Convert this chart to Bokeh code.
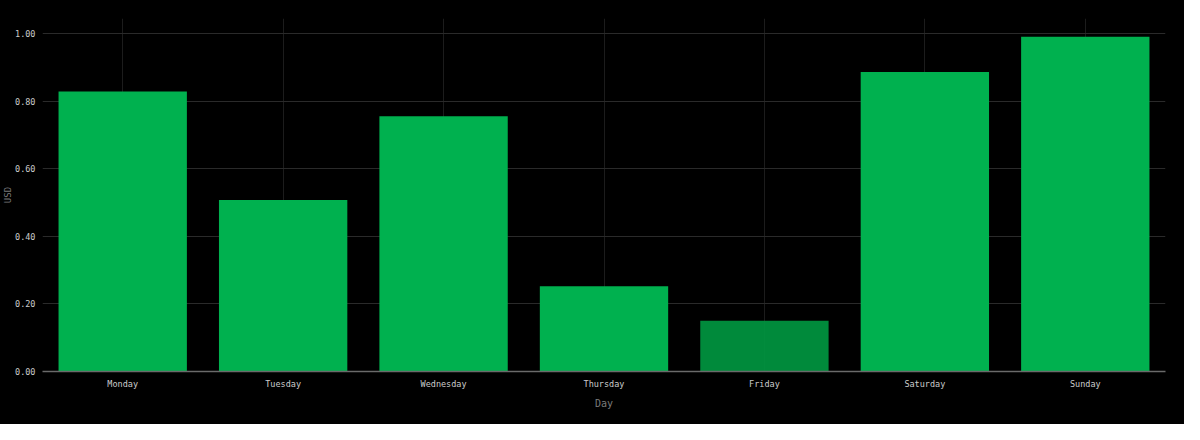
from bokeh.plotting import figure
from bokeh.models import ColumnDataSource, FixedTicker, NumeralTickFormatter, Range1d, Title
from bokeh.embed import file_html
from bokeh.resources import INLINE

days = ["Monday", "Tuesday", "Wednesday", "Thursday", "Friday", "Saturday", "Sunday"]
usd = [0.828, 0.507, 0.755, 0.252, 0.150, 0.886, 0.990]
bar_colors = ["#00b14f", "#00b14f", "#00b14f", "#00b14f", "#00953f", "#00b14f", "#00b14f"]
bar_alphas = [1.0, 1.0, 1.0, 1.0, 0.93, 1.0, 1.0]
y_ticks = [0.0, 0.2, 0.4, 0.6, 0.8, 1.0]

source = ColumnDataSource(dict(day=days, usd=usd, color=bar_colors, alpha=bar_alphas))

p = figure(
    x_range=days,
    y_range=Range1d(0, 1.044),
    width=1184,
    height=424,
    output_backend="svg",
    toolbar_location=None,
    background_fill_color="#000000",
    border_fill_color="#000000",
    min_border_left=38,
    min_border_top=18,
    min_border_right=19,
    min_border_bottom=53,
)
p.outline_line_color = None
p.styles = {"background-color": "#000000"}

p.vbar(x="day", top="usd", width=0.8, source=source,
       fill_color="color", fill_alpha="alpha", line_color=None)

p.xgrid.grid_line_color = "#1c1c1c"
p.ygrid.grid_line_color = "#2a2a2a"
p.x_range.range_padding = 0.0

mono = "DejaVu Sans Mono"

p.yaxis.ticker = FixedTicker(ticks=y_ticks)
p.yaxis.formatter = NumeralTickFormatter(format="0.00")
p.yaxis.axis_line_color = None
p.yaxis.major_tick_line_color = None
p.yaxis.minor_tick_line_color = None
p.yaxis.major_label_text_font = mono
p.yaxis.major_label_text_font_size = "8.5px"
p.yaxis.major_label_text_color = "#cccccc"
p.yaxis.major_label_standoff = 1

usd_title = Title(text="USD", align="center", text_font=mono, text_font_size="9px",
                  text_font_style="normal", text_color="#7a7a7a", standoff=0, offset=0)
p.add_layout(usd_title, "left")

p.xaxis.axis_line_color = "#6a6a6a"
p.xaxis.axis_line_width = 1.5
p.xaxis.major_tick_line_color = None
p.xaxis.minor_tick_line_color = None
p.xaxis.major_label_text_font = mono
p.xaxis.major_label_text_font_size = "8.5px"
p.xaxis.major_label_text_color = "#cccccc"
p.xaxis.major_label_standoff = 1
p.xaxis.axis_label = "Day"
p.xaxis.axis_label_text_font = mono
p.xaxis.axis_label_text_font_size = "10px"
p.xaxis.axis_label_text_font_style = "normal"
p.xaxis.axis_label_text_color = "#7a7a7a"
p.xaxis.axis_label_standoff = 6

html = file_html(p, INLINE)
html = html.replace("<body>", '<body style="background-color:#000000;">', 1)
open("out.html", "w").write(html)
